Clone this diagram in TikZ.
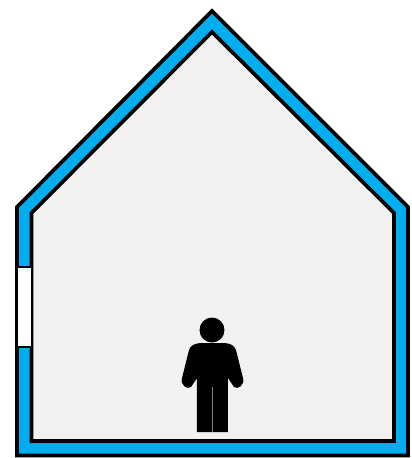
\documentclass[tikz,border=0pt]{standalone}
\usepackage{tikz}
\definecolor{WallBlue}{RGB}{0,174,239}
\definecolor{RoomGray}{RGB}{241,241,241}
\tikzset{wallline/.style={draw=black,line width=2.1pt,line join=miter}}
\begin{document}
\begin{tikzpicture}[x=0.02cm,y=-0.02cm]
        \useasboundingbox (0,0) rectangle (412,458);
        \fill[white] (0,0) rectangle (412,458);
        % house
        \fill[WallBlue,wallline] (17,455.5)--(17,207)--(212,11)--(408,207)--(408,455.5)--cycle;
        \fill[RoomGray,wallline] (31.5,441)--(31.5,213)--(212,32)--(394,213)--(394,441)--cycle;
        % window
        \fill[white,draw=black,line width=0.8pt] (17,267) rectangle (31.5,347);
        % person
        \fill[black] (212,330) circle (12.5);
        \fill[black] (200,343)--(225,343) .. controls (231,344) and (234,345) .. (236,350)--(243,378) .. controls (245,385) and (238,390) .. (234,387)--(228,378)--(228,432)--(197,432)--(197,378)--(191,387) .. controls (187,390) and (180,385) .. (182,378)--(189,350) .. controls (191,345) and (194,344) .. (200,343)--cycle;
        \draw[gray,line width=0.7pt] (212.5,387)--(212.5,432);
      \end{tikzpicture}
\end{document}
